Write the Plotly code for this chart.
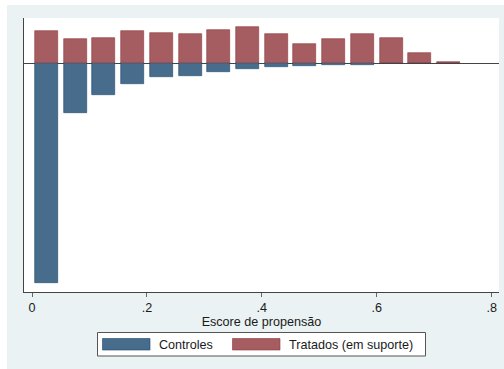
import plotly.graph_objects as go

# ---- data ----
bin_centers = [0.025, 0.075, 0.125, 0.175, 0.225, 0.275, 0.325, 0.375,
               0.425, 0.475, 0.525, 0.575, 0.625, 0.675, 0.725]
treated = [32, 24, 25.3, 32, 30, 29, 32.7, 36.3, 29, 19, 24, 29, 25.3, 9.7, 1]
controls = [-219.7, -50, -31.7, -21.3, -14.3, -13.3, -9, -6.3, -4.3, -3,
            -1.7, -1.7, -0.3, 0, 0]
tick_vals = [0, 0.2, 0.4, 0.6, 0.8]
tick_text = ["0", ".2", ".4", ".6", ".8"]
series_names = ["Controles", "Tratados (em suporte)"]
x_title = "Escore de propensão"

W, H = 504, 369
L, R, T, B = 24, 5, 18, 77
PW, PH = W - L - R, H - T - B


def px(x):
    return (x - L) / PW


def py(y):
    return (H - B - y) / PH


BLUE_FILL, BLUE_LINE = "#486C8C", "#1A476F"
RED_FILL, RED_LINE = "#A65D62", "#90353B"
FONT = "Liberation Sans, Arial, sans-serif"
FS = 12.6

fig = go.Figure()
fig.add_trace(go.Bar(x=bin_centers, y=controls, name=series_names[0], width=0.04,
                     marker=dict(color=BLUE_FILL, line=dict(color=BLUE_LINE, width=0.6)),
                     showlegend=False))
fig.add_trace(go.Bar(x=bin_centers, y=treated, name=series_names[1], width=0.04,
                     marker=dict(color=RED_FILL, line=dict(color=RED_LINE, width=0.6)),
                     showlegend=False))

shapes = [
    # white border strips around the light graph region
    dict(type="rect", xref="paper", yref="paper", x0=px(-2), x1=px(W + 2),
         y0=py(5), y1=py(-2), fillcolor="white", line=dict(width=0), layer="below"),
    dict(type="rect", xref="paper", yref="paper", x0=px(-2), x1=px(7),
         y0=py(H + 2), y1=py(-2), fillcolor="white", line=dict(width=0), layer="below"),
    # legend box
    dict(type="rect", xref="paper", yref="paper", x0=px(97.5), x1=px(425.5),
         y0=py(356), y1=py(332.5), fillcolor="white",
         line=dict(color="#555555", width=1)),
    dict(type="rect", xref="paper", yref="paper", x0=px(102.5), x1=px(150),
         y0=py(350), y1=py(338.5), fillcolor=BLUE_FILL,
         line=dict(color=BLUE_LINE, width=0.6)),
    dict(type="rect", xref="paper", yref="paper", x0=px(232.5), x1=px(280),
         y0=py(350), y1=py(338.5), fillcolor=RED_FILL,
         line=dict(color=RED_LINE, width=0.6)),
]
annotations = [
    dict(text=series_names[0], xref="paper", yref="paper", x=px(157), y=py(344.5),
         xanchor="left", yanchor="middle", showarrow=False,
         font=dict(family=FONT, size=FS, color="#1a1a1a")),
    dict(text=series_names[1], xref="paper", yref="paper", x=px(287), y=py(344.5),
         xanchor="left", yanchor="middle", showarrow=False,
         font=dict(family=FONT, size=FS, color="#1a1a1a")),
]

x0_px, x8_px = 32, 491.7
scale = (x8_px - x0_px) / 0.8
xr = [(L - x0_px) / scale, (W - R - x0_px) / scale]

fig.update_layout(
    width=W, height=H,
    margin=dict(l=L, r=R, t=T, b=B, pad=0, autoexpand=False),
    paper_bgcolor="#EAF2F3", plot_bgcolor="white",
    barmode="overlay", bargap=0,
    shapes=shapes, annotations=annotations,
    font=dict(family=FONT, size=FS, color="#1a1a1a"),
    xaxis=dict(range=xr, tickvals=tick_vals, ticktext=tick_text, automargin=False,
               ticks="outside", ticklen=4, tickcolor="#666666", tickwidth=1,
               showline=True, linecolor="#444444", linewidth=1, showgrid=False,
               zeroline=False, title=dict(text=x_title, standoff=0,
                                          font=dict(family=FONT, size=FS))),
    yaxis=dict(range=[-229, 45], showticklabels=False, ticks="", automargin=False,
               showline=True, linecolor="#444444", linewidth=1, showgrid=False,
               zeroline=True, zerolinecolor="#444444", zerolinewidth=1),
)

fig.write_html("out.html", config={"displayModeBar": False},
               post_script="document.body.style.margin='0';document.body.style.overflow='hidden';")
